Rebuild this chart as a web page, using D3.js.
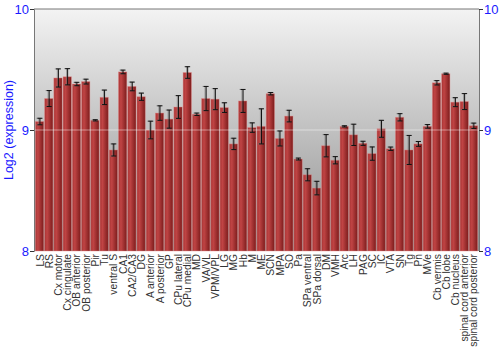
<!DOCTYPE html>
<html>
<head>
<meta charset="utf-8">
<script src="https://cdn.jsdelivr.net/npm/d3@7"></script>
<style>
  body { margin: 0; background: #fff; }
  text { font-family: "Liberation Sans", Arial, sans-serif; }
</style>
</head>
<body>
<div id="chart"></div>
<script>
// regions, mean log2 expression and error
let regions = ["LS", "RS", "Cx motor", "Cx cingulate", "OB anterior", "OB posterior", "Pir", "Tu",
  "ventral S", "CA1", "CA2/CA3", "DG", "A anterior", "A posterior", "GP", "CPu lateral", "CPu medial",
  "MD", "VA/VL", "VPM/VPL", "LG", "MG", "Hb", "M", "ME", "SCN", "MPA", "SO", "Pa", "SPa ventral",
  "SPa dorsal", "DM", "VMH", "Arc", "LH", "PAG", "SC", "IC", "VTA", "SN", "Tg", "Pn", "MVe",
  "Cb vermis", "Cb lobe", "Cb nucleus", "spinal cord anterior", "spinal cord posterior"];

let values = [9.07, 9.26, 9.43, 9.44, 9.38, 9.40, 9.08, 9.27,
  8.835, 9.48, 9.36, 9.275, 9.00, 9.14, 9.09, 9.19, 9.475,
  9.13, 9.26, 9.255, 9.185, 8.885, 9.24, 9.02, 9.03, 9.30,
  8.93, 9.115, 8.76, 8.63, 8.52, 8.87, 8.75, 9.03, 8.96,
  8.89, 8.805, 9.01, 8.845, 9.105, 8.835, 8.885, 9.03, 9.39,
  9.465, 9.23, 9.235, 9.035];

let errors = [0.027, 0.066, 0.075, 0.067, 0.014, 0.02, 0.005, 0.06,
  0.05, 0.015, 0.036, 0.03, 0.073, 0.06, 0.075, 0.094, 0.048,
  0.01, 0.1, 0.087, 0.04, 0.047, 0.095, 0.039, 0.145, 0.01,
  0.062, 0.048, 0.008, 0.05, 0.056, 0.092, 0.03, 0.005, 0.088,
  0.017, 0.055, 0.07, 0.014, 0.03, 0.12, 0.02, 0.015, 0.018,
  0.005, 0.037, 0.066, 0.022];

let yTicks = [8, 9, 10];

let svgWidth = 500;
let svgHeight = 350;
let margin = { top: 9, right: 21, bottom: 99, left: 34 };
let width = svgWidth - margin.left - margin.right;
let height = svgHeight - margin.top - margin.bottom;

let svg = d3.select("#chart")
  .append("svg")
  .attr("width", svgWidth)
  .attr("height", svgHeight);

// gradients
let defs = svg.append("defs");
let bg = defs.append("linearGradient")
  .attr("id", "bg").attr("x1", 0).attr("y1", 0).attr("x2", 0).attr("y2", 1);
bg.append("stop").attr("offset", "0%").attr("stop-color", "#f3f3f3");
bg.append("stop").attr("offset", "100%").attr("stop-color", "#8e8e8e");

let barGrad = defs.append("linearGradient")
  .attr("id", "barGrad").attr("x1", 0).attr("y1", 0).attr("x2", 1).attr("y2", 0);
barGrad.append("stop").attr("offset", "0%").attr("stop-color", "#a83434");
barGrad.append("stop").attr("offset", "30%").attr("stop-color", "#c04444");
barGrad.append("stop").attr("offset", "100%").attr("stop-color", "#7c1c1c");

let chartGroup = svg.append("g")
  .attr("transform", `translate(${margin.left}, ${margin.top})`);

let x = d3.scaleBand()
  .domain(regions)
  .range([0, width])
  .paddingInner(0.1)
  .paddingOuter(0.15);

let y = d3.scaleLinear()
  .domain([8, 10])
  .range([height, 0]);

// background
chartGroup.append("rect")
  .attr("width", width)
  .attr("height", height)
  .attr("fill", "url(#bg)");

// bars
chartGroup.selectAll(".bar")
  .data(regions)
  .join("rect")
  .attr("class", "bar")
  .attr("x", d => x(d))
  .attr("y", (d, i) => y(values[i]))
  .attr("width", x.bandwidth())
  .attr("height", (d, i) => height - y(values[i]))
  .attr("fill", "url(#barGrad)")
  .attr("stroke", "rgba(230,140,140,0.5)")
  .attr("stroke-width", 0.8);

// gridline at 9
chartGroup.append("line")
  .attr("x1", 0).attr("x2", width)
  .attr("y1", y(9)).attr("y2", y(9))
  .attr("stroke", "#fff")
  .attr("stroke-opacity", 0.45)
  .attr("stroke-width", 1);

// error bars
let errG = chartGroup.append("g");
regions.forEach((d, i) => {
  let cx = x(d) + x.bandwidth() / 2;
  let y1 = y(values[i] + errors[i]);
  let y2 = y(values[i] - errors[i]);
  [["#777", 0.6, -0.7], ["#111", 1, 0.4]].forEach(([c, op, dx]) => {
    let g = errG.append("g").attr("stroke", c).attr("stroke-opacity", op).attr("stroke-width", 1);
    g.append("line").attr("x1", cx + dx).attr("x2", cx + dx).attr("y1", y1).attr("y2", y2);
    g.append("line").attr("x1", cx - 2.5 + dx).attr("x2", cx + 2.5 + dx).attr("y1", y1).attr("y2", y1);
    g.append("line").attr("x1", cx - 2.5 + dx).attr("x2", cx + 2.5 + dx).attr("y1", y2).attr("y2", y2);
  });
});

// frame: top line
chartGroup.append("line")
  .attr("x1", 0).attr("x2", width).attr("y1", 0).attr("y2", 0)
  .attr("stroke", "#777").attr("stroke-width", 1);

// axes
let leftAxis = d3.axisLeft(y).tickValues(yTicks).tickFormat(d3.format("d")).tickSize(4);
let rightAxis = d3.axisRight(y).tickValues(yTicks).tickFormat(d3.format("d")).tickSize(4);

let la = chartGroup.append("g").call(leftAxis);
let ra = chartGroup.append("g").attr("transform", `translate(${width}, 0)`).call(rightAxis);
[la, ra].forEach(a => {
  a.select(".domain").attr("stroke", "#777");
  a.selectAll(".tick line").attr("stroke", "#333");
  a.selectAll(".tick text")
    .attr("fill", "#1a1aff")
    .style("font-size", "13px")
    .style("font-family", "Liberation Sans, Arial, sans-serif");
});
la.selectAll(".tick text").attr("x", -5);
ra.selectAll(".tick text").attr("x", 5);

// x labels
chartGroup.append("g")
  .selectAll("text")
  .data(regions)
  .join("text")
  .attr("transform", d => `translate(${x(d) + x.bandwidth() / 2 + 4}, ${height + 3}) rotate(-90)`)
  .attr("text-anchor", "end")
  .attr("fill", "#333")
  .style("font-size", "10.3px")
  .text(d => d);

// y title
svg.append("text")
  .attr("transform", `translate(13, ${margin.top + height / 2}) rotate(-90)`)
  .attr("text-anchor", "middle")
  .attr("fill", "#1a1aff")
  .style("font-size", "12.5px")
  .text("Log2 (expression)");
</script>
</body>
</html>
